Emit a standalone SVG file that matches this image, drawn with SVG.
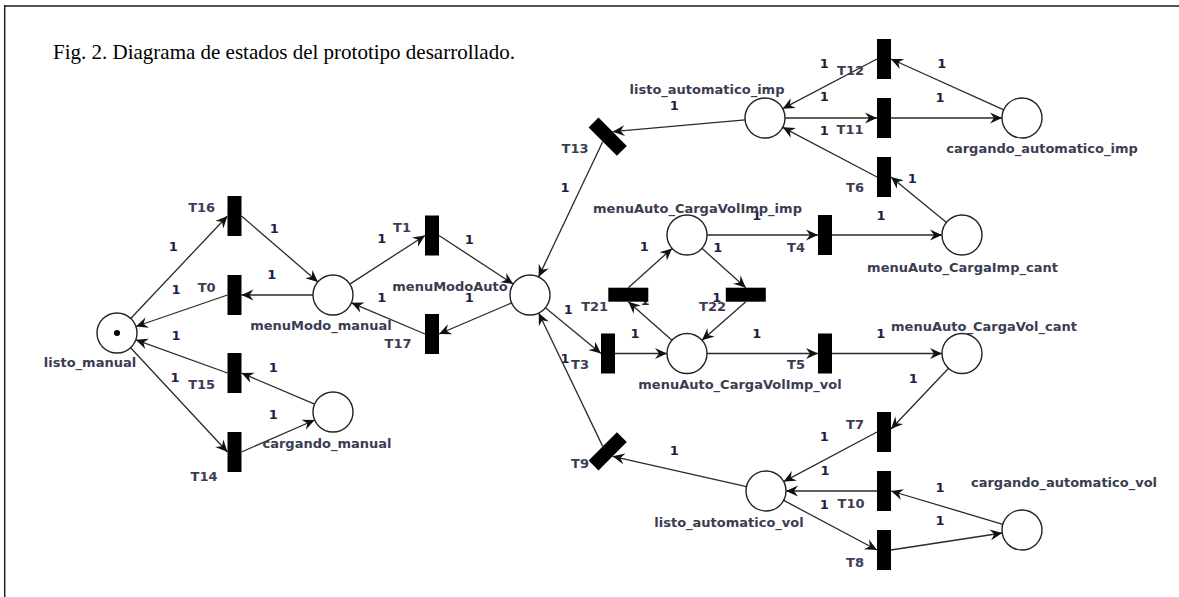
<svg xmlns="http://www.w3.org/2000/svg" width="1179" height="597" viewBox="0 0 1179 597">
<style>
.arc{stroke:#2a2a2a;stroke-width:1.3;fill:none;marker-end:url(#ah)}
.place{fill:#fff;stroke:#222;stroke-width:1.4}
.trans{fill:#000}
.lbl{font-family:"DejaVu Sans",Verdana,sans-serif;font-weight:bold;font-size:13px;fill:#3c3c52;text-anchor:middle}
.w{font-family:"DejaVu Sans",Verdana,sans-serif;font-weight:bold;font-size:13px;fill:#1e1e3e;text-anchor:middle}
.cap{font-family:"Liberation Serif","Times New Roman",serif;font-size:21px;fill:#000}
</style>
<defs>
<marker id="ah" viewBox="-13 -6.5 14 13" refX="0" refY="0" markerWidth="14" markerHeight="13" markerUnits="userSpaceOnUse" orient="auto">
<path d="M0,0 L-12,-5.5 L-8,0 L-12,5.5 Z" fill="#111"/>
</marker>
</defs>
<rect width="1179" height="597" fill="#fff"/>
<g id="frame">
<line x1="4" y1="6" x2="1179" y2="6" stroke="#555" stroke-width="2"/>
<line x1="4.7" y1="5" x2="4.7" y2="597" stroke="#222" stroke-width="1.5"/>
</g>
<text class="cap" x="53" y="59">Fig. 2. Diagrama de estados del prototipo desarrollado.</text>
<g id="connectors">
<line class="arc" x1="130.7" y1="318.5" x2="227.5" y2="216"/>
<line class="arc" x1="241.5" y1="216" x2="317.9" y2="281.9"/>
<line class="arc" x1="313" y1="295" x2="241.5" y2="295"/>
<line class="arc" x1="227.5" y1="295" x2="135.9" y2="326.5"/>
<line class="arc" x1="314.6" y1="404.2" x2="241.5" y2="373"/>
<line class="arc" x1="227.5" y1="373" x2="135.8" y2="339.8"/>
<line class="arc" x1="130.6" y1="347.7" x2="227.5" y2="452"/>
<line class="arc" x1="241.5" y1="452" x2="314.7" y2="420"/>
<line class="arc" x1="349.8" y1="284.1" x2="425" y2="235.5"/>
<line class="arc" x1="439" y1="235.5" x2="513.3" y2="284.1"/>
<line class="arc" x1="511.6" y1="302.9" x2="439" y2="334"/>
<line class="arc" x1="425" y1="334" x2="351.4" y2="302.8"/>
<line class="arc" x1="745.1" y1="119.8" x2="612.6" y2="131.7"/>
<line class="arc" x1="602.7" y1="141.7" x2="538.6" y2="276.9"/>
<line class="arc" x1="545.4" y1="307.7" x2="601" y2="353.5"/>
<line class="arc" x1="615" y1="353.5" x2="667" y2="353.5"/>
<line class="arc" x1="672" y1="340.3" x2="628.3" y2="301.7"/>
<line class="arc" x1="628.3" y1="287.7" x2="672.1" y2="248.4"/>
<line class="arc" x1="701.9" y1="248.3" x2="745.8" y2="287.7"/>
<line class="arc" x1="745.8" y1="301.7" x2="702" y2="340.3"/>
<line class="arc" x1="707" y1="235" x2="818" y2="235"/>
<line class="arc" x1="832" y1="235" x2="942" y2="235"/>
<line class="arc" x1="707" y1="353.5" x2="818" y2="353.5"/>
<line class="arc" x1="832" y1="353.5" x2="942" y2="353.5"/>
<line class="arc" x1="946.5" y1="222.4" x2="891" y2="177"/>
<line class="arc" x1="877" y1="177" x2="782.7" y2="127.3"/>
<line class="arc" x1="785" y1="118" x2="877" y2="118"/>
<line class="arc" x1="891" y1="118" x2="1002" y2="118"/>
<line class="arc" x1="1003.8" y1="109.8" x2="891" y2="59"/>
<line class="arc" x1="877" y1="59" x2="782.7" y2="108.7"/>
<line class="arc" x1="948.6" y1="368.3" x2="891" y2="429"/>
<line class="arc" x1="877" y1="432" x2="783.7" y2="481.6"/>
<line class="arc" x1="1002.8" y1="524.3" x2="891" y2="491"/>
<line class="arc" x1="877" y1="491" x2="786" y2="491"/>
<line class="arc" x1="783.7" y1="500.4" x2="877" y2="550"/>
<line class="arc" x1="891" y1="550" x2="1002.2" y2="533"/>
<line class="arc" x1="746.5" y1="486.6" x2="612.6" y2="456.3"/>
<line class="arc" x1="602.7" y1="446.4" x2="538.7" y2="313"/>
<g id="weights">
<text class="w" x="173.3" y="251">1</text>
<text class="w" x="274.3" y="233">1</text>
<text class="w" x="271.7" y="279">1</text>
<text class="w" x="176" y="294">1</text>
<text class="w" x="381.7" y="243">1</text>
<text class="w" x="381.7" y="302">1</text>
<text class="w" x="176" y="340">1</text>
<text class="w" x="273.3" y="372">1</text>
<text class="w" x="175" y="382">1</text>
<text class="w" x="273.3" y="418.6">1</text>
<text class="w" x="565" y="192">1</text>
<text class="w" x="469.3" y="243.5">1</text>
<text class="w" x="469.3" y="302">1</text>
<text class="w" x="568.3" y="314">1</text>
<text class="w" x="565" y="363">1</text>
<text class="w" x="674.3" y="109.5">1</text>
<text class="w" x="824.3" y="68">1</text>
<text class="w" x="824.3" y="101">1</text>
<text class="w" x="824.3" y="135">1</text>
<text class="w" x="756.7" y="219.5">1</text>
<text class="w" x="941.7" y="68">1</text>
<text class="w" x="940" y="102">1</text>
<text class="w" x="912.3" y="183">1</text>
<text class="w" x="881" y="219.5">1</text>
<text class="w" x="644.3" y="251">1</text>
<text class="w" x="717.7" y="252">1</text>
<text class="w" x="645" y="304.5">1</text>
<text class="w" x="716.7" y="302">1</text>
<text class="w" x="635" y="338">1</text>
<text class="w" x="756.7" y="338">1</text>
<text class="w" x="880.7" y="338">1</text>
<text class="w" x="913.3" y="383">1</text>
<text class="w" x="674.3" y="455">1</text>
<text class="w" x="824.3" y="441">1</text>
<text class="w" x="825" y="474.5">1</text>
<text class="w" x="824.3" y="509">1</text>
<text class="w" x="940" y="492">1</text>
<text class="w" x="940" y="524.5">1</text>
</g>
</g>
<g id="places">
<g id="listo_manual"><circle class="place" cx="117" cy="333" r="20"/><circle cx="117" cy="333" r="3" fill="#000"/><text class="lbl" x="90" y="367">listo_manual</text></g>
<g id="menuModo_manual"><circle class="place" cx="333" cy="295" r="20"/><text class="lbl" x="321" y="330">menuModo_manual</text></g>
<g id="cargando_manual"><circle class="place" cx="333" cy="412" r="20"/><text class="lbl" x="327" y="448">cargando_manual</text></g>
<g id="menuModoAuto"><circle class="place" cx="530" cy="295" r="20"/><text class="lbl" x="450" y="291">menuModoAuto</text></g>
<g id="listo_automatico_imp"><circle class="place" cx="765" cy="118" r="20"/><text class="lbl" x="707" y="94">listo_automatico_imp</text></g>
<g id="cargando_automatico_imp"><circle class="place" cx="1022" cy="118" r="20"/><text class="lbl" x="1042" y="153">cargando_automatico_imp</text></g>
<g id="menuAuto_CargaImp_cant"><circle class="place" cx="962" cy="235" r="20"/><text class="lbl" x="962.5" y="272">menuAuto_CargaImp_cant</text></g>
<g id="menuAuto_CargaVolImp_imp"><circle class="place" cx="687" cy="235" r="20"/><text class="lbl" x="697.5" y="213">menuAuto_CargaVolImp_imp</text></g>
<g id="menuAuto_CargaVolImp_vol"><circle class="place" cx="687" cy="353.5" r="20"/><text class="lbl" x="740" y="389">menuAuto_CargaVolImp_vol</text></g>
<g id="menuAuto_CargaVol_cant"><circle class="place" cx="962" cy="353.5" r="20"/><text class="lbl" x="984" y="331">menuAuto_CargaVol_cant</text></g>
<g id="listo_automatico_vol"><circle class="place" cx="766" cy="491" r="20"/><text class="lbl" x="729" y="527">listo_automatico_vol</text></g>
<g id="cargando_automatico_vol"><circle class="place" cx="1022" cy="530" r="20"/><text class="lbl" x="1064" y="487">cargando_automatico_vol</text></g>
</g>
<g id="transitions">
<g id="T16"><rect class="trans" x="227.5" y="196" width="14" height="40"/><text class="lbl" x="201.7" y="212.3">T16</text></g>
<g id="T0"><rect class="trans" x="227.5" y="275" width="14" height="40"/><text class="lbl" x="206.7" y="291.7">T0</text></g>
<g id="T15"><rect class="trans" x="227.5" y="353" width="14" height="40"/><text class="lbl" x="201.7" y="389">T15</text></g>
<g id="T14"><rect class="trans" x="227.5" y="432" width="14" height="40"/><text class="lbl" x="204" y="481">T14</text></g>
<g id="T1"><rect class="trans" x="425" y="215.5" width="14" height="40"/><text class="lbl" x="402" y="232.3">T1</text></g>
<g id="T17"><rect class="trans" x="425" y="314" width="14" height="40"/><text class="lbl" x="398" y="348.3">T17</text></g>
<g id="T13"><rect class="trans" x="-20" y="-7" width="40" height="14" transform="translate(607.7,136.7) rotate(45)"/><text class="lbl" x="575" y="153.3">T13</text></g>
<g id="T9"><rect class="trans" x="-20" y="-7" width="40" height="14" transform="translate(607.7,451.3) rotate(-45)"/><text class="lbl" x="580" y="468.3">T9</text></g>
<g id="T3"><rect class="trans" x="601" y="333.5" width="14" height="40"/><text class="lbl" x="580" y="369.3">T3</text></g>
<g id="T21"><rect class="trans" x="608.3" y="287.7" width="40" height="14"/><text class="lbl" x="594.7" y="311">T21</text></g>
<g id="T22"><rect class="trans" x="725.8" y="287.7" width="40" height="14"/><text class="lbl" x="712.5" y="311">T22</text></g>
<g id="T4"><rect class="trans" x="818" y="215" width="14" height="40"/><text class="lbl" x="796" y="251.7">T4</text></g>
<g id="T5"><rect class="trans" x="818" y="333.5" width="14" height="40"/><text class="lbl" x="796" y="369.3">T5</text></g>
<g id="T12"><rect class="trans" x="877" y="39" width="14" height="40"/><text class="lbl" x="850.5" y="75">T12</text></g>
<g id="T11"><rect class="trans" x="877" y="98" width="14" height="40"/><text class="lbl" x="850" y="134">T11</text></g>
<g id="T6"><rect class="trans" x="877" y="157" width="14" height="40"/><text class="lbl" x="855" y="191.7">T6</text></g>
<g id="T7"><rect class="trans" x="877" y="412" width="14" height="40"/><text class="lbl" x="855" y="429.3">T7</text></g>
<g id="T10"><rect class="trans" x="877" y="471" width="14" height="40"/><text class="lbl" x="851" y="508.3">T10</text></g>
<g id="T8"><rect class="trans" x="877" y="530" width="14" height="40"/><text class="lbl" x="855" y="566.7">T8</text></g>
</g>
</svg>
